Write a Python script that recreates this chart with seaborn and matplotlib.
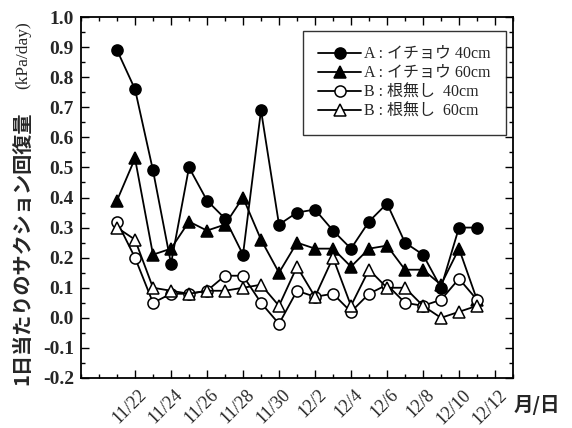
import matplotlib
matplotlib.use("Agg")
import matplotlib.pyplot as plt
import matplotlib.dates as mdates
import matplotlib.transforms as mtransforms
from matplotlib.ticker import MultipleLocator, FormatStrFormatter
import numpy as np
import pandas as pd
import seaborn as sns

# Measurement dates (month/day)
dates = ["11/21", "11/22", "11/23", "11/24", "11/25", "11/26", "11/27",
         "11/28", "11/29", "11/30", "12/1", "12/2", "12/3", "12/4",
         "12/5", "12/6", "12/7", "12/8", "12/9", "12/10", "12/11"]

# Daily suction recovery (kPa/day)
a_ginkgo_40 = [0.89, 0.76, 0.49, 0.18, 0.50, 0.39, 0.33, 0.21, 0.69, 0.31,
               0.35, 0.36, 0.29, 0.23, 0.32, 0.38, 0.25, 0.21, 0.10, 0.30, 0.30]
a_ginkgo_60 = [0.39, 0.53, 0.21, 0.23, 0.32, 0.29, 0.31, 0.40, 0.26, 0.15,
               0.25, 0.23, 0.23, 0.17, 0.23, 0.24, 0.16, 0.16, 0.11, 0.23, 0.06]
b_noroot_40 = [0.32, 0.20, 0.05, 0.08, 0.08, 0.09, 0.14, 0.14, 0.05, -0.02,
               0.09, 0.07, 0.08, 0.02, 0.08, 0.11, 0.05, 0.04, 0.06, 0.13, 0.06]
b_noroot_60 = [0.30, 0.26, 0.10, 0.09, 0.08, 0.09, 0.09, 0.10, 0.11, 0.04,
               0.17, 0.07, 0.20, 0.04, 0.16, 0.10, 0.10, 0.04, 0.00, 0.02, 0.04]

series_labels = ["A : イチョウ 40cm", "A : イチョウ 60cm",
                 "B : 根無し  40cm", "B : 根無し  60cm"]

x_tick_labels = ["11/22", "11/24", "11/26", "11/28", "11/30", "12/2",
                 "12/4", "12/6", "12/8", "12/10", "12/12"]

YEAR = 2001


def to_dt(md):
    m, d = md.split("/")
    return pd.Timestamp(year=YEAR, month=int(m), day=int(d))


sns.set_style("ticks")
plt.rcParams["font.family"] = ["Liberation Serif", "Noto Sans CJK JP"]
plt.rcParams["axes.unicode_minus"] = False

df = pd.DataFrame({
    "date": [to_dt(d) for d in dates],
    series_labels[0]: a_ginkgo_40,
    series_labels[1]: a_ginkgo_60,
    series_labels[2]: b_noroot_40,
    series_labels[3]: b_noroot_60,
})

fig = plt.figure(figsize=(5.72, 4.28), dpi=100)
ax = fig.add_axes([81 / 572, 1 - 378 / 428, 432 / 572, 361 / 428])

styles = [
    dict(marker="o", markerfacecolor="black"),
    dict(marker="^", markerfacecolor="black"),
    dict(marker="o", markerfacecolor="white"),
    dict(marker="^", markerfacecolor="white"),
]
for label, st in zip(series_labels, styles):
    sns.lineplot(data=df, x="date", y=label, ax=ax, color="black",
                 linewidth=1.3, markersize=8, markeredgecolor="black",
                 markeredgewidth=1.1, label=label, **st)

ax.set_xlim(to_dt("11/19"), to_dt("12/13"))
ax.set_ylim(-0.2, 1.0)

# y axis
ax.yaxis.set_major_locator(MultipleLocator(0.1))
ax.yaxis.set_minor_locator(MultipleLocator(0.05))
ax.yaxis.set_major_formatter(FormatStrFormatter("%.1f"))

# x axis: labelled ticks every two days, minor ticks each day
major_dates = [to_dt(s) for s in x_tick_labels]
ax.set_xticks(major_dates)
ax.set_xticklabels(x_tick_labels)
ax.xaxis.set_minor_locator(mdates.DayLocator())

ax.tick_params(which="both", direction="in", top=True, right=True,
               color="black", width=1.0)
ax.tick_params(which="major", length=6)
ax.tick_params(which="minor", length=3)
ax.tick_params(axis="y", labelsize=14, pad=5)
ax.tick_params(axis="x", labelsize=13, pad=6)
for t in ax.get_yticklabels():
    t.set_fontweight("bold")

offset = mtransforms.ScaledTranslation(3 / 100, 0, fig.dpi_scale_trans)
for t in ax.get_xticklabels():
    t.set_rotation(45)
    t.set_ha("right")
    t.set_va("top")
    t.set_rotation_mode("anchor")
    t.set_transform(t.get_transform() + offset)

for sp in ax.spines.values():
    sp.set_color("black")
    sp.set_linewidth(1.3)

ax.set_xlabel("")
ax.set_ylabel("")

# axis titles
fig.text(0.038, 1 - 248 / 428, "1日当たりのサクション回復量", rotation=90,
         ha="center", va="center", fontsize=14.5, fontweight="bold",
         family=["Noto Sans CJK JP"])
fig.text(0.040, 1 - 55 / 428, "(kPa/day)", rotation=90,
         ha="center", va="center", fontsize=12.5,
         family=["Liberation Serif"])
fig.text(537 / 572, 1 - 405 / 428, "月/日", ha="center", va="center",
         fontsize=14, fontweight="bold", family=["Noto Sans CJK JP"])

leg = ax.legend(loc="upper right", bbox_to_anchor=(0.984, 0.961),
                borderaxespad=0, fontsize=11.5, frameon=True, fancybox=False,
                handlelength=2.7, labelspacing=0.2, borderpad=0.95,
                handletextpad=0.2)
leg.get_frame().set_edgecolor("black")
leg.get_frame().set_linewidth(1.0)

fig.savefig("out.png", dpi=100)
